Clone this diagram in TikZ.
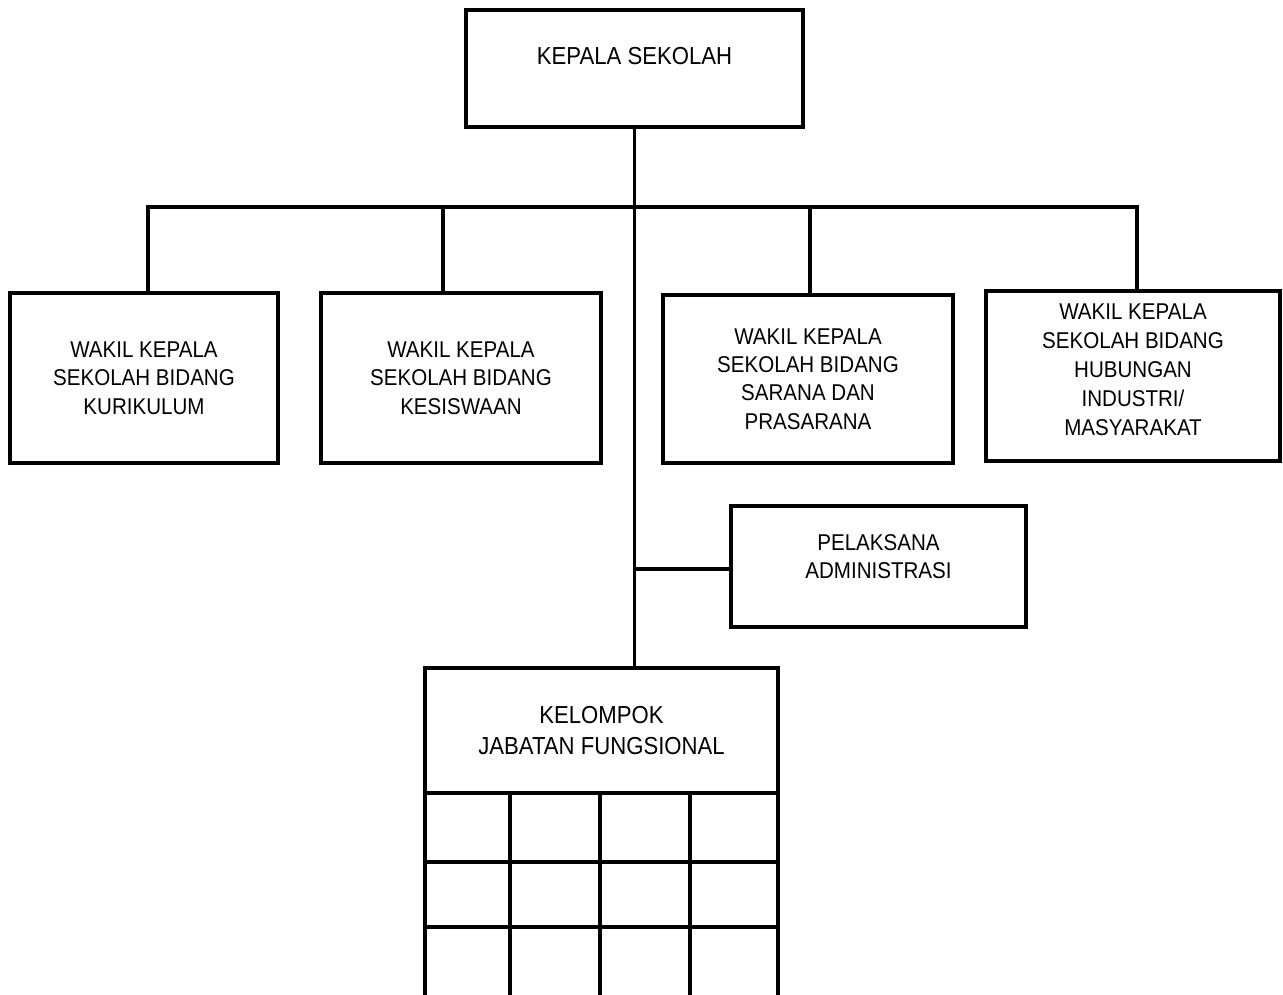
\documentclass[tikz,border=0pt]{standalone}
\usepackage{fontspec}
\setmainfont{Liberation Sans}[FakeStretch=0.9]
\begin{document}
\begin{tikzpicture}
[x=0.02cm,y=-0.02cm,line width=1.9pt,
  boxdecorate/.style={shape=rectangle,draw,align=center,inner sep=0pt,
    font=\fontsize{13}{16.2}\selectfont},%
  linedecorate/.style={line width=1.9pt}]
\useasboundingbox (0,0) rectangle (1283,994);
% boxes
\node (ks) at (634.5,68.5) [boxdecorate,minimum width=6.74cm,minimum height=2.34cm,
  font=\fontsize{14}{17}\selectfont,text height=10pt,text depth=15pt] {KEPALA SEKOLAH};
\node (w1) at (144,378) [boxdecorate,minimum width=5.36cm,minimum height=3.4cm]
  {WAKIL KEPALA\\SEKOLAH BIDANG\\KURIKULUM};
\node (w2) at (461,378) [boxdecorate,minimum width=5.6cm,minimum height=3.4cm]
  {WAKIL KEPALA\\SEKOLAH BIDANG\\KESISWAAN};
\node (w3) at (808,379) [boxdecorate,minimum width=5.8cm,minimum height=3.36cm]
  {WAKIL KEPALA\\SEKOLAH BIDANG\\SARANA DAN\\PRASARANA};
\node (w4) at (1133,376) [boxdecorate,minimum width=5.88cm,minimum height=3.4cm,
  font=\fontsize{13}{16.5}\selectfont]
  {WAKIL KEPALA\\SEKOLAH BIDANG\\HUBUNGAN\\INDUSTRI/\\MASYARAKAT\\[-9pt]~};
\node (pa) at (878.5,566.5) [boxdecorate,minimum width=5.9cm,minimum height=2.42cm]
  {PELAKSANA\\ADMINISTRASI\\[-4.8pt]~};
\node (kjf) at (601.5,730.5) [boxdecorate,minimum width=7.06cm,minimum height=2.5cm,
  font=\fontsize{14}{17.5}\selectfont] {KELOMPOK\\JABATAN FUNGSIONAL};
% connectors
\coordinate (bus) at (634,207);
\coordinate (d1) at (148,207);
\coordinate (d2) at (443,207);
\coordinate (d3) at (810,207);
\coordinate (d4) at (1137,207);
\coordinate (pj) at (634,569);
\draw[linedecorate] (ks.south) -- (ks.south |- kjf.north);
\draw[linedecorate] (d1 |- w1.north) -- (d1) -- (d4) -- (d4 |- w4.north);
\draw[linedecorate] (d2) -- (d2 |- w2.north);
\draw[linedecorate] (d3) -- (d3 |- w3.north);
\draw[linedecorate] (pj) -- (pj -| pa.west);
% grid below kelompok
\foreach \x in {425,510,600,690,778}
  \draw[linedecorate] (\x,793) -- (\x,1004);
\foreach \y in {862,927}
  \draw[linedecorate] (425,\y) -- (778,\y);
\end{tikzpicture}
\end{document}
